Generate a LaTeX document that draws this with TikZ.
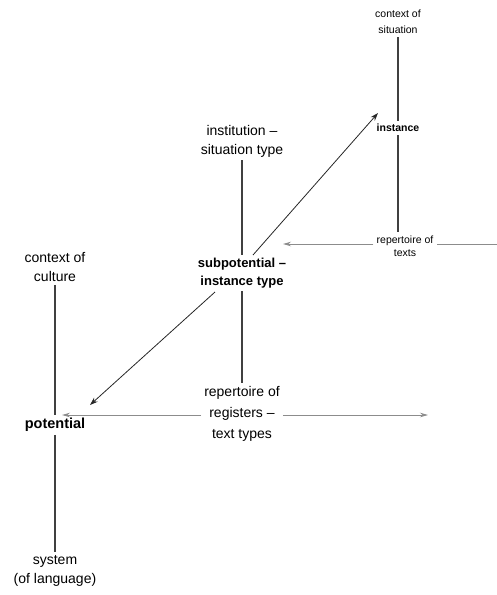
\documentclass[tikz,border=0pt]{standalone}
\usepackage{fontspec}
\setmainfont{Liberation Sans}
\usetikzlibrary{calc,arrows.meta}

\begin{document}
\begin{tikzpicture}[x=1pt,y=-1pt,
  lbl/.style={align=center,inner sep=3pt,font=\fontsize{14}{19}\selectfont},
  small/.style={align=center,inner sep=3pt,font=\fontsize{10.5}{16}\selectfont},
  axis/.style={line width=1.4pt,black!75},
  diag/.style={-{Stealth[length=8pt,width=5.5pt]},black!85,line width=0.8pt},
  repline/.style={black!45,line width=0.8pt},
  reparrow/.style={repline,-{Stealth[length=8pt,width=4.5pt]}}]
\useasboundingbox (0,0) rectangle (497,595);

% Instance column
\node[small] (cs) at (398,22) {context of\\situation};
\node[small,font=\fontsize{10.5}{14}\selectfont\bfseries] (inst) at (398,128) {instance};
\node[small,font=\fontsize{10.5}{13}\selectfont] (rt) at (405,246) {repertoire of\\texts};
\draw[axis] (cs.south) -- (inst.north);
\draw[axis] (inst.south) -- (rt.north -| inst);

% Subpotential column
\node[lbl] (ist) at (242,141) {institution –\\situation type};
\node[lbl,font=\fontsize{13}{17.5}\selectfont\bfseries] (sub) at (242,273) {subpotential –\\instance type};
\node[lbl,font=\fontsize{14}{21}\selectfont] (rr) at (242,414) {repertoire of\\registers –\\text types};
\draw[axis] (ist.south) -- (sub.north);
\draw[axis] (sub.south) -- (rr.north);

% Potential column
\node[lbl] (cc) at (55,267) {context of\\culture};
\node[lbl,font=\fontsize{14.5}{18}\selectfont\bfseries] (pot) at (55,425) {potential};
\node[lbl] (sys) at (55,571) {system\\(of language)};
\draw[axis] (cc.south) -- (pot.north);
\draw[axis] (pot.south) -- (sys.north);

% Diagonal arrows
\coordinate (su) at (253,255);
\coordinate (iu) at (378,113);
\coordinate (sl) at (215,292);
\coordinate (pl) at (90,405);
\draw[diag] (su) -- (iu);
\draw[diag] (sl) -- (pl);

% Repertoire of texts
\coordinate (re) at (497,244);
\coordinate (rl) at (283,244);
\draw[repline] (re) -- (rt.east |- re);
\draw[reparrow] (rt.west |- re) -- (rl);

% Repertoire of registers
\coordinate (gl) at (62,415);
\coordinate (gr) at (428,415);
\draw[reparrow] (rr.west |- gl) -- (gl);
\draw[reparrow] (rr.east |- gr) -- (gr);
\end{tikzpicture}
\end{document}
